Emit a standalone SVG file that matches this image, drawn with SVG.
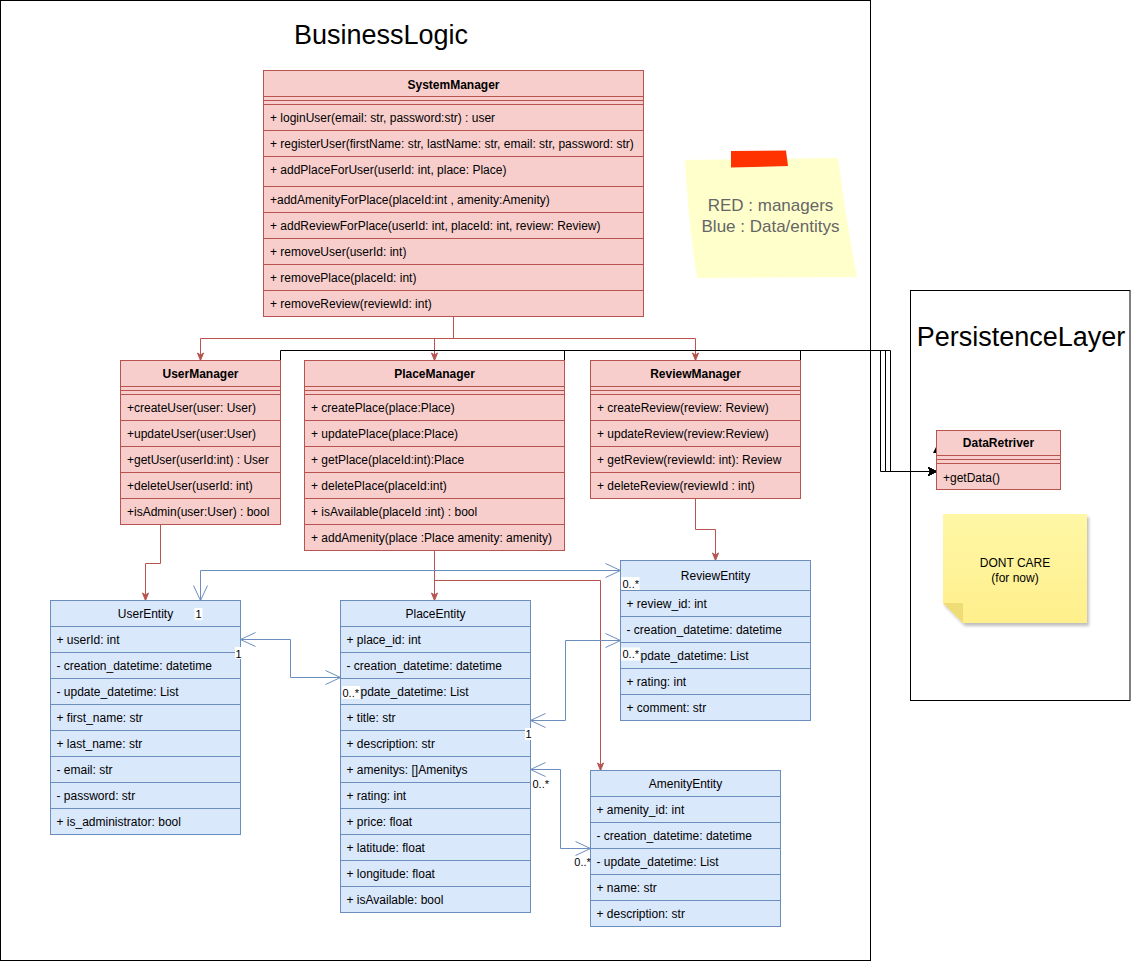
<svg xmlns="http://www.w3.org/2000/svg" width="1131" height="961" viewBox="0 0 1131 961">
<style>
text{font-family:"Liberation Sans",Arial,Helvetica,sans-serif;fill:#000}
.t{font-size:12px}
.b{font-size:12px;font-weight:bold}
.lbl{font-size:11px}
.mgr{fill:#f8cecc;stroke:#b85450;stroke-width:1}
.mln{stroke:#b85450;stroke-width:1;fill:none}
.ent{fill:#dae8fc;stroke:#6c8ebf;stroke-width:1}
.eln{stroke:#6c8ebf;stroke-width:1;fill:none}
.frame{fill:none;stroke:#000;stroke-width:1}
.rc{fill:none;stroke:#b85450;stroke-width:1;marker-end:url(#redArrow)}
.bc{fill:none;stroke:#6c8ebf;stroke-width:1;marker-start:url(#openArrow);marker-end:url(#openArrow)}
.kc{fill:none;stroke:#000;stroke-width:1;marker-end:url(#blackArrow)}
.lbg{fill:#fff}
.c{text-anchor:middle}
</style>
<defs>
<marker id="redArrow" viewBox="-10 -5 10 10" refX="0" refY="0" markerWidth="10" markerHeight="10" markerUnits="userSpaceOnUse" orient="auto"><path d="M0,0 L-7.5,-3 L-5.5,0 L-7.5,3 Z" fill="#b85450" stroke="#b85450" stroke-width="1"/></marker>
<marker id="openArrow" viewBox="-18 -9 19 18" refX="0" refY="0" markerWidth="19" markerHeight="18" markerUnits="userSpaceOnUse" orient="auto-start-reverse"><path d="M-15,-7 L0,0 L-15,7" fill="none" stroke="#6c8ebf" stroke-width="1"/></marker>
<marker id="blackArrow" viewBox="-10 -6 10 12" refX="0" refY="0" markerWidth="10" markerHeight="12" markerUnits="userSpaceOnUse" orient="auto"><path d="M0,0 L-8,-4 L-6,0 L-8,4 Z" fill="#000" stroke="#000" stroke-width="1"/></marker>
<linearGradient id="noteGrad" x1="0" y1="0" x2="0" y2="1"><stop offset="0" stop-color="#fff7a6"/><stop offset="1" stop-color="#ffef8c"/></linearGradient>
<filter id="shadow" x="-10%" y="-10%" width="130%" height="130%"><feDropShadow dx="2" dy="3" stdDeviation="1.5" flood-color="#000" flood-opacity="0.25"/></filter>
</defs>

<rect width="1131" height="961" fill="#fff"/>

<g id="BusinessLogic">
<rect class="frame" x="0.5" y="0.5" width="870" height="960"/>
<text x="381" y="44" class="c" style="font-size:27px">BusinessLogic</text>
</g>

<g id="PersistenceLayer">
<rect class="frame" x="910.5" y="290.5" width="219.5" height="410"/>
<text x="1021" y="346" class="c" style="font-size:27px">PersistenceLayer</text>
</g>

<g id="legendNote">
<path d="M685,160 L838,158 Q846,220 857,277 L697,278 Q688,220 685,160 Z" fill="#ffffcc"/>
<polygon points="731,151 786,150.5 788,166 731,167.5" fill="#ff3300"/>
<text x="770.5" y="211" class="c" style="font-size:17px;fill:#666">RED : managers</text>
<text x="770.5" y="232" class="c" style="font-size:17px;fill:#666">Blue : Data/entitys</text>
</g>

<g id="connectors">
<path class="rc" d="M453.5,316.5 V338.5 H200.5 V360.5"/>
<path class="rc" d="M453.5,316.5 V338.5 H434.5 V360.5"/>
<path class="rc" d="M453.5,316.5 V338.5 H695.5 V360.5"/>
<path class="rc" d="M160.5,524.5 V563.5 H145.5 V600.5"/>
<path class="rc" d="M434.5,550.5 V600.5"/>
<path class="rc" d="M434.5,580.5 H600.5 V770.5"/>
<path class="rc" d="M695.5,498.5 V529.5 H715.5 V560.5"/>
<path class="kc" d="M280.5,360.5 V350.5 H890.5 V471.5 H936.5"/>
<path class="kc" d="M564.5,360.5 V350.5 H885.5 V471.5 H936.5"/>
<path class="kc" d="M800.5,360.5 V350.5 H880.5 V471.5 H936.5"/>
<polygon points="933,453 936.5,446 936.5,453" fill="#000"/>
<path class="bc" d="M200.5,600.5 V570.5 H620.5"/>
<path class="bc" d="M240.5,639.5 H290.5 V677.5 H340.5"/>
<path class="bc" d="M530.5,720.5 H565.5 V640.5 H620.5"/>
<path class="bc" d="M530.5,769.5 H560.5 V848.5 H590.5"/>
</g>

<g id="SystemManager">
<rect class="mgr" x="263.5" y="70.5" width="380" height="246"/>
<path class="mln" d="M263.5,96.5 H643.5 M263.5,100.5 H643.5 M263.5,104.5 H643.5 M263.5,130.5 H643.5 M263.5,156.5 H643.5 M263.5,186.5 H643.5 M263.5,212.5 H643.5 M263.5,238.5 H643.5 M263.5,264.5 H643.5 M263.5,290.5 H643.5"/>
<text x="453.5" y="88.5" class="b c">SystemManager</text>
<text x="270" y="122" class="t">+ loginUser(email: str, password:str) : user</text>
<text x="270" y="148" class="t">+ registerUser(firstName: str, lastName: str, email: str, password: str)</text>
<text x="270" y="174" class="t">+ addPlaceForUser(userId: int, place: Place)</text>
<text x="270" y="204" class="t">+addAmenityForPlace(placeId:int , amenity:Amenity)</text>
<text x="270" y="230" class="t">+ addReviewForPlace(userId: int, placeId: int, review: Review)</text>
<text x="270" y="256" class="t">+ removeUser(userId: int)</text>
<text x="270" y="282" class="t">+ removePlace(placeId: int)</text>
<text x="270" y="308" class="t">+ removeReview(reviewId: int)</text>
</g>

<g id="UserManager">
<rect class="mgr" x="120.5" y="360.5" width="160" height="164"/>
<path class="mln" d="M120.5,386.5 H280.5 M120.5,390.5 H280.5 M120.5,394.5 H280.5 M120.5,420.5 H280.5 M120.5,446.5 H280.5 M120.5,472.5 H280.5 M120.5,498.5 H280.5"/>
<text x="200.5" y="378" class="b c">UserManager</text>
<text x="127" y="412" class="t">+createUser(user: User)</text>
<text x="127" y="438" class="t">+updateUser(user:User)</text>
<text x="127" y="464" class="t">+getUser(userId:int) : User</text>
<text x="127" y="490" class="t">+deleteUser(userId: int)</text>
<text x="127" y="516" class="t">+isAdmin(user:User) : bool</text>
</g>

<g id="PlaceManager">
<rect class="mgr" x="304.5" y="360.5" width="260" height="190"/>
<path class="mln" d="M304.5,386.5 H564.5 M304.5,390.5 H564.5 M304.5,394.5 H564.5 M304.5,420.5 H564.5 M304.5,446.5 H564.5 M304.5,472.5 H564.5 M304.5,498.5 H564.5 M304.5,524.5 H564.5"/>
<text x="434.5" y="378" class="b c">PlaceManager</text>
<text x="311" y="412" class="t">+ createPlace(place:Place)</text>
<text x="311" y="438" class="t">+ updatePlace(place:Place)</text>
<text x="311" y="464" class="t">+ getPlace(placeId:int):Place</text>
<text x="311" y="490" class="t">+ deletePlace(placeId:int)</text>
<text x="311" y="516" class="t">+ isAvailable(placeId :int) : bool</text>
<text x="311" y="542" class="t">+ addAmenity(place :Place amenity: amenity)</text>
</g>

<g id="ReviewManager">
<rect class="mgr" x="590.5" y="360.5" width="210" height="138"/>
<path class="mln" d="M590.5,386.5 H800.5 M590.5,390.5 H800.5 M590.5,394.5 H800.5 M590.5,420.5 H800.5 M590.5,446.5 H800.5 M590.5,472.5 H800.5"/>
<text x="695.5" y="378" class="b c">ReviewManager</text>
<text x="597" y="412" class="t">+ createReview(review: Review)</text>
<text x="597" y="438" class="t">+ updateReview(review:Review)</text>
<text x="597" y="464" class="t">+ getReview(reviewId: int): Review</text>
<text x="597" y="490" class="t">+ deleteReview(reviewId : int)</text>
</g>

<g id="DataRetriver">
<rect class="mgr" x="936.5" y="430.5" width="124" height="59"/>
<path class="mln" d="M936.5,455.5 H1060.5 M936.5,459.5 H1060.5 M936.5,463.5 H1060.5"/>
<text x="998.5" y="447" class="b c">DataRetriver</text>
<text x="943" y="481.5" class="t">+getData()</text>
</g>

<g id="dontCareNote">
<path d="M943,514 H1087 V623 H963 L943,603 Z" fill="url(#noteGrad)" filter="url(#shadow)"/>
<path d="M943,603 L963,603 L963,623 Z" fill="#eedc77"/>
<text x="1015" y="567" class="t c">DONT CARE</text>
<text x="1015" y="582" class="t c">(for now)</text>
</g>

<g id="UserEntity">
<rect class="ent" x="50.5" y="600.5" width="190" height="234"/>
<path class="eln" d="M50.5,626.5 H240.5 M50.5,652.5 H240.5 M50.5,678.5 H240.5 M50.5,704.5 H240.5 M50.5,730.5 H240.5 M50.5,756.5 H240.5 M50.5,782.5 H240.5 M50.5,808.5 H240.5"/>
<text x="145.5" y="618" class="t c">UserEntity</text>
<text x="56.5" y="644" class="t">+ userId: int</text>
<text x="56.5" y="670" class="t">- creation_datetime: datetime</text>
<text x="56.5" y="696" class="t">- update_datetime: List</text>
<text x="56.5" y="722" class="t">+ first_name: str</text>
<text x="56.5" y="748" class="t">+ last_name: str</text>
<text x="56.5" y="774" class="t">- email: str</text>
<text x="56.5" y="800" class="t">- password: str</text>
<text x="56.5" y="826" class="t">+ is_administrator: bool</text>
</g>

<g id="PlaceEntity">
<rect class="ent" x="340.5" y="600.5" width="190" height="312"/>
<path class="eln" d="M340.5,626.5 H530.5 M340.5,652.5 H530.5 M340.5,678.5 H530.5 M340.5,704.5 H530.5 M340.5,730.5 H530.5 M340.5,756.5 H530.5 M340.5,782.5 H530.5 M340.5,808.5 H530.5 M340.5,834.5 H530.5 M340.5,860.5 H530.5 M340.5,886.5 H530.5"/>
<text x="435.5" y="618" class="t c">PlaceEntity</text>
<text x="346.5" y="644" class="t">+ place_id: int</text>
<text x="346.5" y="670" class="t">- creation_datetime: datetime</text>
<text x="346.5" y="696" class="t">- update_datetime: List</text>
<text x="346.5" y="722" class="t">+ title: str</text>
<text x="346.5" y="748" class="t">+ description: str</text>
<text x="346.5" y="774" class="t">+ amenitys: []Amenitys</text>
<text x="346.5" y="800" class="t">+ rating: int</text>
<text x="346.5" y="826" class="t">+ price: float</text>
<text x="346.5" y="852" class="t">+ latitude: float</text>
<text x="346.5" y="878" class="t">+ longitude: float</text>
<text x="346.5" y="904" class="t">+ isAvailable: bool</text>
</g>

<g id="ReviewEntity">
<rect class="ent" x="620.5" y="560.5" width="190" height="160"/>
<path class="eln" d="M620.5,590.5 H810.5 M620.5,616.5 H810.5 M620.5,642.5 H810.5 M620.5,668.5 H810.5 M620.5,694.5 H810.5"/>
<text x="715.5" y="580" class="t c">ReviewEntity</text>
<text x="626.5" y="608" class="t">+ review_id: int</text>
<text x="626.5" y="634" class="t">- creation_datetime: datetime</text>
<text x="626.5" y="660" class="t">- update_datetime: List</text>
<text x="626.5" y="686" class="t">+ rating: int</text>
<text x="626.5" y="712" class="t">+ comment: str</text>
</g>

<g id="AmenityEntity">
<rect class="ent" x="590.5" y="770.5" width="190" height="156"/>
<path class="eln" d="M590.5,796.5 H780.5 M590.5,822.5 H780.5 M590.5,848.5 H780.5 M590.5,874.5 H780.5 M590.5,900.5 H780.5"/>
<text x="685.5" y="788" class="t c">AmenityEntity</text>
<text x="596.5" y="814" class="t">+ amenity_id: int</text>
<text x="596.5" y="840" class="t">- creation_datetime: datetime</text>
<text x="596.5" y="866" class="t">- update_datetime: List</text>
<text x="596.5" y="892" class="t">+ name: str</text>
<text x="596.5" y="918" class="t">+ description: str</text>
</g>

<g id="labels">
<rect class="lbg" x="194.5" y="608" width="8" height="12"/>
<text x="195.5" y="618" class="lbl">1</text>
<rect class="lbg" x="235" y="647" width="7" height="12"/>
<text x="235.5" y="657.5" class="lbl">1</text>
<rect class="lbg" x="342" y="686" width="18" height="13"/>
<text x="342.5" y="696.5" class="lbl">0..*</text>
<rect class="lbg" x="525" y="728" width="7" height="12"/>
<text x="525.5" y="738" class="lbl">1</text>
<text x="532.5" y="787.5" class="lbl">0..*</text>
<rect class="lbg" x="574" y="856" width="16" height="13"/>
<text x="574.3" y="866.3" class="lbl">0..*</text>
<rect class="lbg" x="621" y="577" width="18.5" height="13"/>
<text x="622.5" y="588" class="lbl">0..*</text>
<rect class="lbg" x="621" y="647.5" width="19" height="13"/>
<text x="622.5" y="658.3" class="lbl">0..*</text>
</g>
</svg>
